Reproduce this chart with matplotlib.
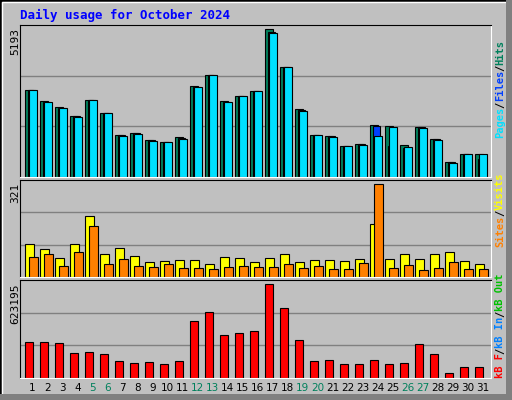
import matplotlib
matplotlib.use('Agg')
import matplotlib.pyplot as plt
from matplotlib.patches import Rectangle
import numpy as np

days = list(range(1, 32))
weekends = [5, 6, 12, 13, 19, 20, 26, 27]

hits = [3055, 2667, 2456, 2162, 2702, 2268, 1492, 1563, 1316, 1245, 1398, 3196, 3572, 2667, 2832, 3020,
        5193, 3866, 2385, 1492, 1457, 1104, 1175, 1845, 1809, 1140, 1774, 1351, 540, 822, 822]
files = [3055, 2630, 2420, 2140, 2702, 2240, 1470, 1540, 1290, 1245, 1370, 3160, 3572, 2630, 2832, 3020,
         5087, 3866, 2350, 1492, 1440, 1104, 1150, 1810, 1104, 1034, 1750, 1330, 520, 822, 646]
pages = [3055, 2620, 2409, 2127, 2702, 2233, 1457, 1528, 1280, 1245, 1351, 3149, 3572, 2620, 2832, 3020,
         5052, 3866, 2338, 1492, 1422, 1104, 1140, 1457, 1774, 1069, 1739, 1316, 505, 822, 822]
visits = [115, 98, 67, 115, 210, 78, 102, 74, 53, 57, 60, 60, 46, 71, 67, 53,
          67, 81, 53, 60, 60, 57, 64, 185, 64, 81, 64, 81, 85, 57, 46]
sites = [71, 81, 39, 85, 178, 46, 64, 39, 36, 46, 32, 32, 29, 36, 39, 36,
         36, 46, 32, 39, 29, 29, 50, 321, 32, 43, 25, 32, 53, 29, 29]
kbytes = [241000, 241000, 234000, 166000, 173000, 159000, 111000, 98000, 105000, 91000, 111000, 378000,
          439000, 289000, 302000, 316000, 623195, 466000, 255000, 111000, 118000, 91000, 91000, 118000,
          91000, 98000, 227000, 159000, 30000, 70000, 70000]

GREY = '#c0c0c0'
mono = 'DejaVu Sans Mono'

fig = plt.figure(figsize=(5.12, 4.0), dpi=100, facecolor=GREY)
# outer frame
fig.patches.append(Rectangle((0, 0), 1, 1, transform=fig.transFigure, fill=False, ec='black', lw=2))
fig.patches.append(Rectangle((0.004, 0.006), 0.99, 0.988, transform=fig.transFigure, fill=False, ec='white', lw=1))
fig.patches.append(Rectangle((0.988, 0.0), 0.012, 1, transform=fig.transFigure, fc='#808080', ec='none'))
fig.patches.append(Rectangle((0, 0.0), 1, 0.015, transform=fig.transFigure, fc='#808080', ec='none'))

fig.text(20 / 512, 1 - 15 / 400, 'Daily usage for October 2024', color='#0000ff', family=mono,
         fontweight='bold', fontsize=9, va='center', ha='left')

x = np.array(days) - 0.5
xlim = (0.5 - 5 / 15, 31.5 + 1 / 15)


def make_axes(top, bottom, ymax, label):
    ax = fig.add_axes([20 / 512, 1 - bottom / 400, 471 / 512, (bottom - top) / 400])
    ax.set_facecolor(GREY)
    ax.set_xlim(*xlim)
    ax.set_ylim(0, ymax)
    for g in (ymax / 3, 2 * ymax / 3):
        ax.axhline(g, color='#808080', lw=1, zorder=0)
    ax.set_xticks([])
    ax.set_yticks([])
    for s in ('top', 'left'):
        ax.spines[s].set_color('black')
    for s in ('bottom', 'right'):
        ax.spines[s].set_color('white')
    fig.text(15 / 512, 1 - (top + 3) / 400, label, rotation=90, family=mono, fontsize=8,
             ha='center', va='top')
    return ax


ax1 = make_axes(25, 177, 5345, '5193')
ax1.bar(x, hits, 0.51, align='edge', color='#00805c', ec='black', lw=0.8)
ax1.bar(x + 0.18, files, 0.47, align='edge', color='#0040ff', ec='black', lw=0.8)
ax1.bar(x + 0.29, pages, 0.49, align='edge', color='#00e0ff', ec='black', lw=0.8)

ax2 = make_axes(180, 277, 336, '321')
ax2.bar(x, visits, 0.58, align='edge', color='#ffff00', ec='black', lw=0.8)
ax2.bar(x + 0.27, sites, 0.57, align='edge', color='#ff8000', ec='black', lw=0.8)

ax3 = make_axes(280, 378, 652000, '623195')
ax3.bar(x, kbytes, 0.51, align='edge', color='#ff0000', ec='black', lw=0.8)

for d in days:
    col = '#00805c' if d in weekends else 'black'
    ax3.text(d, -0.1, str(d), transform=ax3.get_xaxis_transform(), ha='center', va='center',
             color=col, fontsize=7.5, family='DejaVu Sans')


def side_label(parts, y_bottom):
    # stack rotated text pieces upward from y_bottom (pixels)
    y = y_bottom
    for txt, col in parts:
        t = fig.text(500 / 512, 1 - y / 400, txt, rotation=90, color=col, family=mono,
                     fontweight='bold', fontsize=7.5, ha='center', va='bottom')
        y -= len(txt) * 6.1


side_label([('Pages', '#00e0ff'), ('/', 'black'), ('Files', '#0040ff'), ('/', 'black'),
            ('Hits', '#00805c')], 138)
side_label([('Sites', '#ff8000'), ('/', 'black'), ('Visits', '#ffff00')], 247)
side_label([('kB F', '#ff0000'), ('/', 'black'), ('kB In', '#0080ff'), ('/', 'black'),
            ('kB Out', '#00c000')], 378)

fig.savefig('out.png', dpi=100, facecolor=GREY)
